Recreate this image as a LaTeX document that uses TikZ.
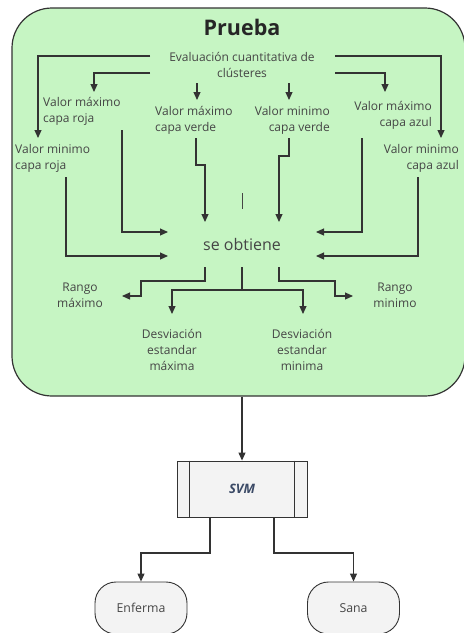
\documentclass[tikz,border=0pt]{standalone}
\usepackage{fontspec}
\setmainfont{Open Sans}
\usetikzlibrary{arrows.meta,calc}
\definecolor{panelgreen}{HTML}{C6F5C3}
\definecolor{edge}{HTML}{333333}
\definecolor{txt}{HTML}{454545}
\definecolor{boxgrey}{HTML}{F3F3F3}
\definecolor{svmtxt}{HTML}{3B4A66}
\tikzset{
  lbl/.style={inner sep=0pt, text=txt, font=\fontsize{12}{16}\selectfont},
  conn/.style={draw=edge, line width=1.1pt},
  arr/.style={conn, -{Triangle[length=8pt,width=7pt]}},
  term/.style={draw=edge, line width=0.9pt, fill=boxgrey, rounded corners=21pt,
    minimum width=92pt, minimum height=52pt, text=txt, font=\fontsize{12.3}{14}\selectfont},
}
\begin{document}
\begin{tikzpicture}[x=1pt,y=-1pt]
\useasboundingbox (0,0) rectangle (464,633);
% panel
\node[draw=edge, line width=1.2pt, fill=panelgreen, rounded corners=40pt,
  minimum width=453pt, minimum height=388pt, inner sep=0pt] (panel) at (238.5,202) {};
\node[inner sep=0pt, font=\fontsize{21.5}{24}\selectfont\bfseries, text=black!85] (title) at (242,27) {Prueba};
\node[lbl, align=center] (eval) at (242,65) {Evaluación cuantitativa de\\clústeres};
\node[lbl, align=left, anchor=west] (vmaxr) at (43,111) {Valor máximo\\capa roja};
\node[lbl, align=left, anchor=west] (vminr) at (15,158) {Valor minimo\\capa roja};
\node[lbl, align=left, anchor=west] (vmaxv) at (155,120) {Valor máximo\\capa verde};
\node[lbl, align=right, anchor=east] (vminv) at (330,120) {Valor minimo\\capa verde};
\node[lbl, align=right, anchor=east] (vmaxa) at (432,115) {Valor máximo\\capa azul};
\node[lbl, align=right, anchor=east] (vmina) at (459,158) {Valor minimo\\capa azul};
\node[inner sep=0pt, text=txt, font=\fontsize{16}{19}\selectfont] (obt) at (242,244) {se obtiene};
\node[lbl, align=center] (rmax) at (80,295) {Rango\\máximo};
\node[lbl, align=center] (rmin) at (395,295) {Rango\\minimo};
\node[lbl, align=center] (dmax) at (172,350) {Desviación\\estandar\\máxima};
\node[lbl, align=center] (dmin) at (302,350) {Desviación\\estandar\\minima};
% arrows from evaluation
\draw[arr] (150,56) -| (38,138);
\draw[arr] (150,73) -| (94,92);
\draw[arr] (197,83) -- (197,100);
\draw[arr] (289,83) -- (289,100);
\draw[arr] (335,73) -| (385,92);
\draw[arr] (335,56) -| (441,138);
% arrows into "se obtiene"
\draw[arr] (66,177) |- (168,256);
\draw[arr] (122,130) |- (168,232);
\draw[arr] (196,138) -- (196,165) -- (205,165) -- (205,222);
\draw[arr] (289,138) -- (289,156) -- (279,156) -- (279,222);
\draw[arr] (362,138) |- (316,232);
\draw[arr] (418,177) |- (316,256);
\draw[draw=txt, line width=0.8pt] (242,193) -- (242,209);
% arrows out of "se obtiene"
\draw[arr] (205,267) -- (205,281) -- (141,281) -- (141,296) -- (122,296);
\draw[conn] (242,267) -- (242,290);
\draw[arr] (242,290) -| (172,314);
\draw[arr] (242,290) -| (303,314);
\draw[arr] (279,267) -- (279,281) -- (335,281) -- (335,296) -- (353,296);
% SVM
\node[draw=edge, line width=0.9pt, fill=boxgrey, minimum width=130pt, minimum height=56pt,
  inner sep=0pt, text=svmtxt, font=\fontsize{13}{15}\selectfont\bfseries\itshape] (svm) at (242,489) {SVM};
\draw[draw=edge, line width=0.9pt] ($(svm.north west)+(13,0)$) -- ($(svm.south west)+(13,0)$);
\draw[draw=edge, line width=0.9pt] ($(svm.north east)+(-13,0)$) -- ($(svm.south east)+(-13,0)$);
\draw[arr] (svm.north |- panel.south) -- (svm.north);
\node[term] (enf) at (141,608) {Enferma};
\node[term] (sana) at (353.5,608) {Sana};
\draw[arr] (210,517) -- (210,553) -| (enf.north);
\draw[arr] (274,517) -- (274,553) -| (sana.north);
\end{tikzpicture}
\end{document}
